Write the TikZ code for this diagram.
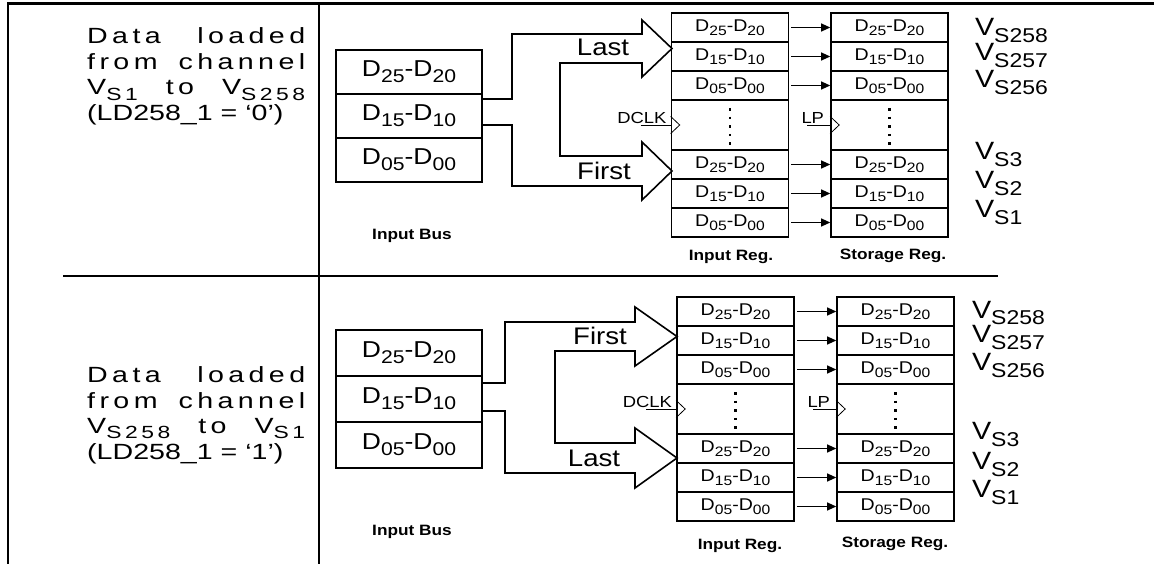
\documentclass[tikz,border=0pt]{standalone}
\usepackage{fontspec}
\setmainfont{Liberation Sans}[FakeStretch=1.15]
\newfontfamily\notefont{Liberation Sans}[FakeStretch=1.3]
\newfontfamily\wideface{Liberation Sans}[FakeStretch=1.3, LetterSpace=20]
\usepackage{graphicx}
\usetikzlibrary{arrows.meta,positioning,calc}

\newcommand{\lo}[2][0.25em]{\raisebox{-#1}{\scalebox{0.8}{#2}}}
\newcommand{\dd}[2]{D\lo{#1}-D\lo{#2}}
\newcommand{\spread}[1]{\makebox[218pt][s]{\wideface #1}}

\begin{document}
\begin{tikzpicture}[
  x=1pt, y=-1pt,
  frame/.style={line width=2.6pt},
  busbox/.style={draw, line width=1.8pt, minimum width=146pt, minimum height=44pt, inner sep=0pt, font=\fontsize{23}{26}\selectfont},
  regbox/.style={draw, line width=1.6pt, minimum width=117pt, minimum height=29pt, inner sep=0pt, font=\fontsize{17}{20}\selectfont},
  busline/.style={line width=1.6pt},
  dat/.style={-{Triangle[length=9pt,width=8pt]}, line width=1.1pt, shorten <=2pt},
  clk/.style={line width=0.8pt},
  tag/.style={font=\bfseries\fontsize{15}{18}\selectfont},
  vlab/.style={anchor=west, inner sep=0pt, font=\fontsize{25}{28}\selectfont},
  note/.style={anchor=base west, inner sep=0pt, font=\notefont\fontsize{22}{26}\selectfont},
  bigtag/.style={inner sep=0pt, font=\fontsize{24}{28}\selectfont},
  clktag/.style={anchor=south east, inner sep=1pt, font=\fontsize{16}{18}\selectfont},
  dots/.style={line width=2.6pt, dash pattern=on 2.6pt off 6pt}
]
\useasboundingbox (0,0) rectangle (1154,564);

% frame
\draw[frame] (8,3.5) -- (1154,3.5);
\draw[frame] (8,2.2) -- (8,564);
\draw[frame] (319,3.5) -- (319,564);
\draw[line width=2pt] (63,276) -- (998,276);

% ---------- LD258_1 = '0' ----------
\node[note] (atxt1) at (87,44) {\spread{Data loaded}};
\node[note] (atxt2) at (87,70) {\spread{from channel}};
\node[note] (atxt3) at (87,95) {\spread{V\lo{S1} to V\lo{S258}}};
\node[note] (atxt4) at (87,121) {(LD258\_1 = ‘0’)};

\node[busbox] (abus1) at (409,72) {\dd{25}{20}};
\node[busbox] (abus2) at (409,116) {\dd{15}{10}};
\node[busbox] (abus3) at (409,160) {\dd{05}{00}};
\node[tag] (abuslbl) at (412,236) {Input Bus};

\foreach \n/\y/\a/\b in {1/27.5/25/20, 2/56.5/15/10, 3/85.5/05/00, 4/164.5/25/20, 5/193.5/15/10, 6/222.5/05/00} {
  \node[regbox] (ainp\n) at (730,\y) {\dd{\a}{\b}};
  \node[regbox] (asto\n) at (889.5,\y) {\dd{\a}{\b}};
  \draw[dat] (ainp\n) -- (asto\n);
}
\node[regbox, minimum height=50pt] (ainpd) at (730,125) {};
\node[regbox, minimum height=50pt] (astod) at (889.5,125) {};
\draw[dots] ([yshift=17pt]ainpd.center) -- ([yshift=-20pt]ainpd.center);
\draw[dots] ([yshift=17pt]astod.center) -- ([yshift=-20pt]astod.center);

\coordinate (aclk) at ([xshift=-30pt]ainpd.west);
\draw[clk] (aclk) -- (ainpd.west);
\draw[clk] ([yshift=8.5pt]ainpd.west) -- ([xshift=9pt]ainpd.west) -- ([yshift=-8.5pt]ainpd.west);
\node[clktag] (adclk) at ([xshift=-3pt]ainpd.west) {DCLK};
\coordinate (alp) at ([xshift=-23pt]astod.west);
\draw[clk] (alp) -- (astod.west);
\draw[clk] ([yshift=8.5pt]astod.west) -- ([xshift=9pt]astod.west) -- ([yshift=-8.5pt]astod.west);
\node[clktag] (alptag) at ([xshift=-5pt]astod.west) {LP};

\draw[busline] ([yshift=17pt]abus2.east) -- (512,99) -- (512,34) -- (642,34) -- (642,20) -- (672,48.5) -- (642,77) -- (642,63) -- (560,63) -- (560,156) -- (642,156) -- (642,142) -- (672,171) -- (642,200) -- (642,186) -- (512,186) -- (512,125) -- ([yshift=-9pt]abus2.east);
\node[bigtag] (alast) at (603,47) {Last};
\node[bigtag] (afirst) at (604,171) {First};

\foreach \n/\y/\s in {1/30.5/258, 2/55.5/257, 3/82.5/256, 4/154.5/3, 5/183.5/2, 6/212.5/1}
  \node[vlab] (av\n) at ([xshift=26pt]asto\n.east |- 0,\y) {V\lo{S\s}};
\node[tag] (ainplbl) at (731,257) {Input Reg.};
\node[tag] (astolbl) at (893,256) {Storage Reg.};

% ---------- LD258_1 = '1' ----------
\node[note] (btxt1) at (87,382) {\spread{Data loaded}};
\node[note] (btxt2) at (87,408) {\spread{from channel}};
\node[note] (btxt3) at (87,433) {\spread{V\lo{S258} to V\lo{S1}}};
\node[note] (btxt4) at (87,459) {(LD258\_1 = ‘1’)};

\node[busbox, minimum height=46pt] (bbus1) at (409,353) {\dd{25}{20}};
\node[busbox, minimum height=46pt] (bbus2) at (409,399) {\dd{15}{10}};
\node[busbox, minimum height=46pt] (bbus3) at (409,445) {\dd{05}{00}};
\node[tag] (bbuslbl) at (412,532) {Input Bus};

\foreach \n/\y/\a/\b in {1/311.5/25/20, 2/340.5/15/10, 3/369.5/05/00, 4/448.5/25/20, 5/477.5/15/10, 6/506.5/05/00} {
  \node[regbox] (binp\n) at (735.5,\y) {\dd{\a}{\b}};
  \node[regbox] (bsto\n) at (895.5,\y) {\dd{\a}{\b}};
  \draw[dat] (binp\n) -- (bsto\n);
}
\node[regbox, minimum height=50pt] (binpd) at (735.5,409) {};
\node[regbox, minimum height=50pt] (bstod) at (895.5,409) {};
\draw[dots] ([yshift=17pt]binpd.center) -- ([yshift=-20pt]binpd.center);
\draw[dots] ([yshift=17pt]bstod.center) -- ([yshift=-20pt]bstod.center);

\coordinate (bclk) at ([xshift=-30pt]binpd.west);
\draw[clk] (bclk) -- (binpd.west);
\draw[clk] ([yshift=8.5pt]binpd.west) -- ([xshift=9pt]binpd.west) -- ([yshift=-8.5pt]binpd.west);
\node[clktag] (bdclk) at ([xshift=-3pt]binpd.west) {DCLK};
\coordinate (blp) at ([xshift=-23pt]bstod.west);
\draw[clk] (blp) -- (bstod.west);
\draw[clk] ([yshift=8.5pt]bstod.west) -- ([xshift=9pt]bstod.west) -- ([yshift=-8.5pt]bstod.west);
\node[clktag] (blptag) at ([xshift=-5pt]bstod.west) {LP};

\draw[busline] ([yshift=16pt]bbus2.east) -- (505,383) -- (505,322) -- (635,322) -- (635,307) -- (677,336.5) -- (635,366) -- (635,351) -- (555,351) -- (555,443) -- (635,443) -- (635,428) -- (677,458) -- (635,488) -- (635,473) -- (505,473) -- (505,411) -- ([yshift=-12pt]bbus2.east);
\node[bigtag] (bfirst) at (600,336) {First};
\node[bigtag] (blast) at (594,458) {Last};

\foreach \n/\y/\s in {1/313/258, 2/337.5/257, 3/365.5/256, 4/434.5/3, 5/464.5/2, 6/492.5/1}
  \node[vlab] (bv\n) at ([xshift=17pt]bsto\n.east |- 0,\y) {V\lo{S\s}};
\node[tag] (binplbl) at (740,546) {Input Reg.};
\node[tag] (bstolbl) at (895,544) {Storage Reg.};
\end{tikzpicture}
\end{document}
